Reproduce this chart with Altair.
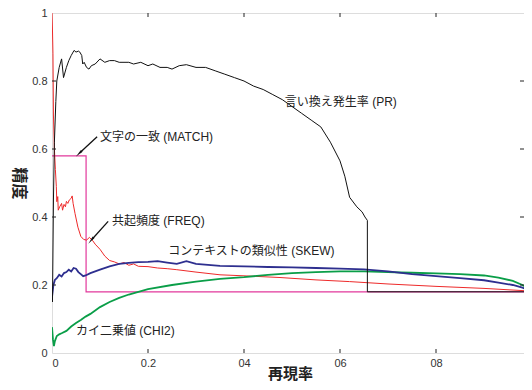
import altair as alt
import pandas as pd

# ---- data ----
pr_recall = [0.001, 0.003, 0.005, 0.008, 0.01, 0.015, 0.02, 0.024, 0.03, 0.035, 0.04, 0.046, 0.05, 0.055,
             0.058, 0.062, 0.064, 0.067, 0.072, 0.077, 0.082, 0.09, 0.1, 0.11, 0.12, 0.13, 0.14, 0.16, 0.17,
             0.185, 0.2, 0.21, 0.225, 0.24, 0.25, 0.265, 0.28, 0.3, 0.32, 0.34, 0.36, 0.38, 0.4, 0.42, 0.44,
             0.46, 0.48, 0.5, 0.52, 0.54, 0.56, 0.58, 0.6, 0.61, 0.62, 0.635, 0.646, 0.652, 0.657, 0.657, 1.0]
pr_prec = [0.15, 0.45, 0.62, 0.74, 0.80, 0.84, 0.865, 0.81, 0.84, 0.86, 0.875, 0.89, 0.885, 0.888,
           0.885, 0.875, 0.85, 0.855, 0.84, 0.835, 0.845, 0.85, 0.865, 0.855, 0.86, 0.86, 0.855, 0.855, 0.85,
           0.855, 0.845, 0.85, 0.84, 0.84, 0.835, 0.845, 0.848, 0.84, 0.84, 0.83, 0.82, 0.81, 0.80, 0.785, 0.775,
           0.76, 0.745, 0.725, 0.705, 0.685, 0.665, 0.62, 0.565, 0.52, 0.458, 0.43, 0.415, 0.40, 0.39, 0.18, 0.18]

freq_recall = [0.0, 0.001, 0.002, 0.003, 0.005, 0.007, 0.009, 0.01, 0.012, 0.013, 0.016, 0.02, 0.022, 0.025,
               0.028, 0.03, 0.033, 0.036, 0.04, 0.042, 0.044, 0.048, 0.054, 0.06, 0.066, 0.072, 0.078, 0.085,
               0.09, 0.1, 0.11, 0.12, 0.13, 0.14, 0.15, 0.16, 0.17, 0.18, 0.2, 0.22, 0.24, 0.26, 0.3, 0.35,
               0.4, 0.475, 0.55, 0.62, 0.7, 0.8, 0.9, 1.0]
freq_prec = [1.0, 0.95, 0.88, 0.7, 0.6, 0.54, 0.49, 0.445, 0.46, 0.42, 0.43, 0.44, 0.42, 0.437,
             0.43, 0.446, 0.44, 0.45, 0.455, 0.462, 0.44, 0.41, 0.37, 0.343, 0.334, 0.332, 0.34, 0.33,
             0.32, 0.305, 0.285, 0.272, 0.268, 0.262, 0.266, 0.258, 0.262, 0.255, 0.254, 0.25, 0.248, 0.245, 0.238, 0.23,
             0.227, 0.222, 0.215, 0.21, 0.203, 0.196, 0.19, 0.182]

match_recall = [0.0, 0.071, 0.071, 1.0]
match_prec = [0.58, 0.58, 0.18, 0.18]

skew_recall = [0.0, 0.003, 0.006, 0.01, 0.015, 0.02, 0.025, 0.03, 0.035, 0.04, 0.045, 0.05, 0.055, 0.06,
               0.065, 0.07, 0.08, 0.09, 0.1, 0.12, 0.14, 0.16, 0.18, 0.2, 0.22, 0.24, 0.26, 0.28, 0.3, 0.35,
               0.4, 0.45, 0.5, 0.55, 0.6, 0.65, 0.7, 0.75, 0.8, 0.85, 0.9, 0.93, 0.96, 0.98, 1.0]
skew_prec = [0.165, 0.2, 0.215, 0.22, 0.23, 0.225, 0.235, 0.238, 0.245, 0.24, 0.25, 0.248, 0.238, 0.232,
             0.226, 0.228, 0.235, 0.24, 0.245, 0.255, 0.262, 0.265, 0.267, 0.268, 0.27, 0.266, 0.262, 0.27, 0.262, 0.256,
             0.255, 0.253, 0.252, 0.25, 0.248, 0.246, 0.24, 0.232, 0.226, 0.22, 0.214, 0.207, 0.2, 0.192, 0.182]

chi2_recall = [0.0, 0.002, 0.004, 0.006, 0.01, 0.015, 0.02, 0.03, 0.04, 0.05, 0.06, 0.07, 0.08, 0.1, 0.12,
               0.14, 0.16, 0.18, 0.2, 0.25, 0.3, 0.35, 0.4, 0.45, 0.5, 0.55, 0.6, 0.65, 0.7, 0.75, 0.8, 0.85,
               0.9, 0.93, 0.96, 0.98, 1.0]
chi2_prec = [0.076, 0.04, 0.02, 0.035, 0.05, 0.055, 0.058, 0.065, 0.078, 0.088, 0.097, 0.107, 0.115, 0.135, 0.15,
             0.162, 0.172, 0.18, 0.188, 0.2, 0.21, 0.218, 0.223, 0.23, 0.235, 0.238, 0.24, 0.24, 0.238, 0.236, 0.234, 0.232,
             0.228, 0.222, 0.212, 0.2, 0.182]

label_texts = ["言い換え発生率 (PR)", "文字の一致 (MATCH)", "共起頻度 (FREQ)",
               "コンテキストの類似性 (SKEW)", "カイ二乗値 (CHI2)"]
label_x = [0.485, 0.1, 0.125, 0.242, 0.05]
label_y = [0.739, 0.636, 0.387, 0.299, 0.065]

arrow_tail_x = [0.094, 0.117]
arrow_tail_y = [0.636, 0.387]
arrow_head_x = [0.058, 0.083]
arrow_head_y = [0.589, 0.334]
arrow_angle = [225, 220]

x_ticks = [0, 0.2, 0.4, 0.6, 0.8]
x_tick_labels = ["0", "0.2", "04", "06", "08"]
y_ticks = [0, 0.2, 0.4, 0.6, 0.8, 1]
y_tick_labels = ["0", "0.2", "0.4", "0.6", "0.8", "1"]
inner_ticks = [0.2, 0.4, 0.6, 0.8]

# plot area: 480 px per unit of recall, cut at the window's right edge
PX_PER_UNIT = 480
W, H = 472, 340
X_MAX = W / PX_PER_UNIT
FONT = "Liberation Sans, Noto Sans CJK JP"

xlabel_expr = "".join(
    f"abs(datum.value - {v}) < 0.01 ? '{t}' : " for v, t in zip(x_ticks, x_tick_labels)) + "''"
ylabel_expr = "".join(
    f"abs(datum.value - {v}) < 0.01 ? '{t}' : " for v, t in zip(y_ticks, y_tick_labels)) + "''"

xs = alt.Scale(domain=[0, X_MAX], nice=False, zero=False)
ys = alt.Scale(domain=[0, 1], nice=False, zero=False)


def series_df(rx, py):
    return pd.DataFrame({"recall": rx, "precision": py, "idx": list(range(len(rx)))})


def line_layer(rx, py, color, width):
    return alt.Chart(series_df(rx, py)).mark_line(color=color, strokeWidth=width, clip=True).encode(
        x=alt.X("recall:Q", scale=xs),
        y=alt.Y("precision:Q", scale=ys),
        order="idx:Q",
    )


axis_base = alt.Chart(pd.DataFrame({"recall": [0], "precision": [0]})).mark_point(opacity=0).encode(
    x=alt.X("recall:Q", scale=xs, title="再現率",
            axis=alt.Axis(values=x_ticks, labelExpr=xlabel_expr, ticks=False, domain=False, grid=False,
                          labelFontSize=11, labelPadding=4, labelColor="#333", labelFont=FONT,
                          titleFontSize=15, titleFont="Noto Sans CJK JP", titleFontWeight="bold",
                          titleColor="#222", titleX=238, titleY=28, titleBaseline="bottom",
                          titleAlign="center")),
    y=alt.Y("precision:Q", scale=ys, title="精度",
            axis=alt.Axis(values=y_ticks, labelExpr=ylabel_expr, ticks=False, domain=False, grid=False,
                          labelFontSize=11, labelPadding=5, labelColor="#333", labelFont=FONT,
                          titleFontSize=16, titleFont="Noto Sans CJK JP", titleFontWeight="bold",
                          titleAngle=90, titleX=-34, titleY=H / 2, titleAlign="center",
                          titleBaseline="middle", titleColor="#222")),
)

tick_df = pd.DataFrame({"v": inner_ticks})
tick_style = dict(color="#222", strokeWidth=1)
ticks_bottom = alt.Chart(tick_df).mark_rule(**tick_style).encode(
    x=alt.X("v:Q", scale=xs), y=alt.value(H), y2=alt.value(H - 4))
ticks_top = alt.Chart(tick_df).mark_rule(**tick_style).encode(
    x=alt.X("v:Q", scale=xs), y=alt.value(0), y2=alt.value(4))
ticks_left = alt.Chart(tick_df).mark_rule(**tick_style).encode(
    y=alt.Y("v:Q", scale=ys), x=alt.value(0), x2=alt.value(4))
ticks_right = alt.Chart(tick_df).mark_rule(**tick_style).encode(
    y=alt.Y("v:Q", scale=ys), x=alt.value(W), x2=alt.value(W - 4))

lines = [
    line_layer(match_recall, match_prec, "#e2389c", 1.2),
    line_layer(freq_recall, freq_prec, "#ee2a2a", 1.0),
    line_layer(chi2_recall, chi2_prec, "#0a9e48", 1.8),
    line_layer(skew_recall, skew_prec, "#2e2f8f", 1.8),
    line_layer(pr_recall, pr_prec, "#111111", 1.0),
]

ann_df = pd.DataFrame({"t": label_texts, "x": label_x, "y": label_y})
annotations = alt.Chart(ann_df).mark_text(align="left", baseline="middle", fontSize=12, font=FONT,
                                          color="#222").encode(
    x=alt.X("x:Q", scale=xs), y=alt.Y("y:Q", scale=ys), text="t:N")

arrow_rows = []
for i in range(len(arrow_tail_x)):
    arrow_rows.append({"a": i, "x": arrow_tail_x[i], "y": arrow_tail_y[i], "o": 0})
    arrow_rows.append({"a": i, "x": arrow_head_x[i], "y": arrow_head_y[i], "o": 1})
arrow_lines = alt.Chart(pd.DataFrame(arrow_rows)).mark_line(color="#111", strokeWidth=1.3).encode(
    x=alt.X("x:Q", scale=xs), y=alt.Y("y:Q", scale=ys), detail="a:N", order="o:Q")
heads_df = pd.DataFrame({"x": arrow_head_x, "y": arrow_head_y, "ang": arrow_angle})
arrow_heads = alt.Chart(heads_df).mark_point(shape="wedge", filled=True, color="#111", size=90,
                                             opacity=1).encode(
    x=alt.X("x:Q", scale=xs), y=alt.Y("y:Q", scale=ys), angle=alt.Angle("ang:Q", scale=None))

chart = alt.layer(
    axis_base, *lines, ticks_bottom, ticks_top, ticks_left, ticks_right, annotations, arrow_lines, arrow_heads
).properties(
    width=W, height=H,
    autosize=alt.AutoSizeParams(type="none"),
    padding={"left": 44, "top": 5, "right": 0, "bottom": 29},
).configure_view(stroke="#222", strokeWidth=1.6).configure(background="white")

chart.save("out.html", embed_options={"renderer": "svg", "actions": False})
